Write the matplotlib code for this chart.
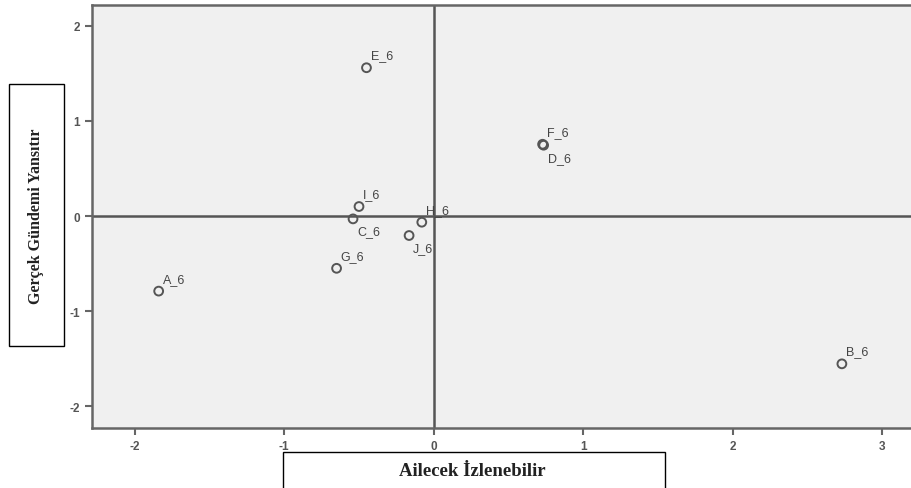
import matplotlib
matplotlib.use("Agg")
import matplotlib.pyplot as plt
from matplotlib.patches import Rectangle

# object scores (dimension 1 / dimension 2)
labels = ["A_6", "B_6", "C_6", "D_6", "E_6", "F_6", "G_6", "H_6", "I_6", "J_6"]
dim1 = [-1.84, 2.73, -0.54, 0.735, -0.45, 0.728, -0.65, -0.08, -0.50, -0.165]
dim2 = [-0.79, -1.555, -0.03, 0.745, 1.56, 0.755, -0.55, -0.065, 0.10, -0.205]
# label side: 1 = above right, -1 = below right
label_side = [1, 1, -1, -1, 1, 1, 1, 1, 1, -1]

xticks = [-2, -1, 0, 1, 2, 3]
yticks = [-2, -1, 0, 1, 2]

W, H = 912, 489
fig = plt.figure(figsize=(W / 100, H / 100), dpi=100)
fig.patch.set_facecolor("white")

ax = fig.add_axes([92 / W, 1 - 429 / H, (W - 92) / W + 0.01, (429 - 6) / H])
ax.set_facecolor("#f0f0f0")
ax.set_xlim(-2.286, 3.26)
ax.set_ylim(-2.23, 2.22)

ax.axhline(0, color="#555555", lw=1.8, zorder=1)
ax.axvline(0, color="#555555", lw=1.8, zorder=1)

ax.scatter(dim1, dim2, s=40, facecolors="none", edgecolors="#555555",
           linewidths=1.4, zorder=3)

for lab, x, y, side in zip(labels, dim1, dim2, label_side):
    dy = 9 if side > 0 else -9
    ax.annotate(lab, (x, y), xytext=(3, dy), textcoords="offset points",
                fontsize=9, color="#444444", fontfamily="Liberation Sans",
                va="center", ha="left", zorder=4)

ax.set_xticks(xticks)
ax.set_yticks(yticks)
ax.set_xticklabels([str(t) for t in xticks])
ax.set_yticklabels([str(t) for t in yticks])
ax.tick_params(direction="out", length=5, width=1.5, color="#666666",
               labelsize=8.5, labelcolor="#555555")
for lbl in ax.get_xticklabels() + ax.get_yticklabels():
    lbl.set_fontweight("bold")
    lbl.set_fontfamily("Liberation Sans")
for side in ["left", "bottom", "top"]:
    ax.spines[side].set_color("#666666")
    ax.spines[side].set_linewidth(1.8)
ax.spines["right"].set_visible(False)

# axis title boxes
fig.patches.append(Rectangle((9 / W, 1 - 347 / H), 55 / W, 262 / H,
                             transform=fig.transFigure, fill=False,
                             edgecolor="black", lw=1.0))
fig.text(36 / W, 1 - 216 / H, "Gerçek Gündemi Yansıtır", rotation=90,
         ha="center", va="center", fontsize=11.5, fontweight="bold",
         fontfamily="Liberation Serif", color="#222222")

fig.patches.append(Rectangle((283 / W, -10 / H), 382 / W, (489 - 453 + 10) / H,
                             transform=fig.transFigure, fill=False,
                             edgecolor="black", lw=1.0))
fig.text(472 / W, 1 - 472 / H, "Ailecek İzlenebilir", ha="center", va="center",
         fontsize=13.5, fontweight="bold", fontfamily="Liberation Serif",
         color="#222222")

fig.savefig("out.png", dpi=100)
